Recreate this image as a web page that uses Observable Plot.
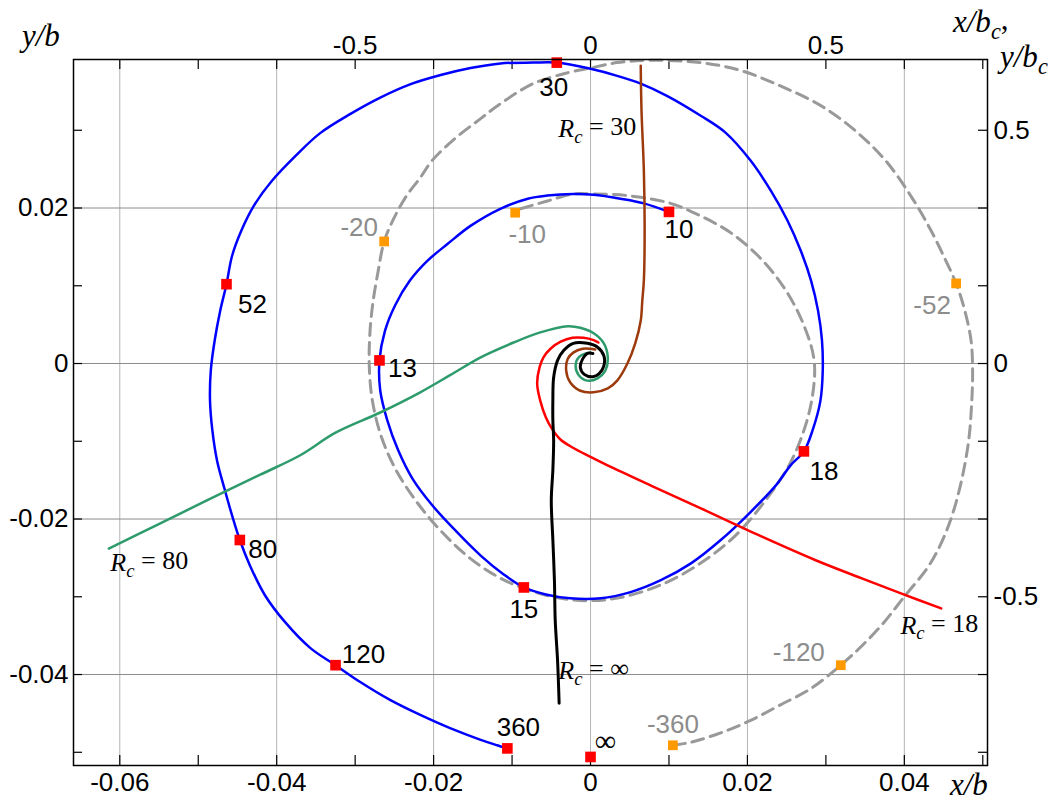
<!DOCTYPE html>
<html><head><meta charset="utf-8">
<script src="https://cdn.jsdelivr.net/npm/d3@7"></script>
<script src="https://cdn.jsdelivr.net/npm/@observablehq/plot@0.6"></script>
<style>body{margin:0;background:#fff}</style>
</head><body><div id="chart"></div>
<script>
// ---------- DATA (x/b, y/b) ----------
const blueSpiral = [[0.0100,0.0195],[0.0068,0.0206],[0.0038,0.0212],[0.0004,0.0217],[-0.0022,0.0218],[-0.0055,0.0216],[-0.0080,0.0212],[-0.0115,0.0199],[-0.0153,0.0177],[-0.0182,0.0154],[-0.0208,0.0132],[-0.0230,0.0107],[-0.0249,0.0075],[-0.0262,0.0042],[-0.0269,0.0004],[-0.0268,-0.0035],[-0.0259,-0.0073],[-0.0245,-0.0112],[-0.0227,-0.0148],[-0.0202,-0.0182],[-0.0172,-0.0215],[-0.0140,-0.0247],[-0.0111,-0.0271],[-0.0085,-0.0288],[-0.0057,-0.0297],[-0.0026,-0.0302],[0.0013,-0.0302],[0.0051,-0.0294],[0.0089,-0.0279],[0.0128,-0.0257],[0.0166,-0.0227],[0.0204,-0.0191],[0.0236,-0.0157],[0.0255,-0.0131],[0.0272,-0.0113],[0.0283,-0.0086],[0.0293,-0.0048],[0.0296,-0.0009],[0.0295,0.0030],[0.0290,0.0068],[0.0281,0.0107],[0.0268,0.0145],[0.0251,0.0184],[0.0230,0.0222],[0.0204,0.0261],[0.0172,0.0297],[0.0140,0.0319],[0.0098,0.0344],[0.0064,0.0360],[0.0034,0.0370],[0.0000,0.0379],[-0.0043,0.0387],[-0.0073,0.0387],[-0.0115,0.0386],[-0.0153,0.0380],[-0.0191,0.0371],[-0.0230,0.0359],[-0.0268,0.0342],[-0.0306,0.0321],[-0.0345,0.0296],[-0.0376,0.0267],[-0.0406,0.0235],[-0.0429,0.0203],[-0.0445,0.0171],[-0.0457,0.0138],[-0.0464,0.0102],[-0.0472,0.0068],[-0.0479,0.0030],[-0.0484,-0.0009],[-0.0485,-0.0048],[-0.0482,-0.0086],[-0.0476,-0.0125],[-0.0466,-0.0163],[-0.0457,-0.0195],[-0.0447,-0.0227],[-0.0434,-0.0260],[-0.0415,-0.0298],[-0.0389,-0.0333],[-0.0357,-0.0366],[-0.0325,-0.0388],[-0.0293,-0.0410],[-0.0255,-0.0433],[-0.0217,-0.0452],[-0.0179,-0.0469],[-0.0140,-0.0484],[-0.0119,-0.0491],[-0.0106,-0.0495]];

const graySpiral = [[-0.0089,0.0199],[-0.0055,0.0209],[-0.0022,0.0218],[0.0004,0.0218],[0.0047,0.0216],[0.0102,0.0206],[0.0140,0.0190],[0.0179,0.0168],[0.0217,0.0135],[0.0249,0.0094],[0.0272,0.0049],[0.0285,0.0004],[0.0283,-0.0041],[0.0272,-0.0086],[0.0253,-0.0131],[0.0223,-0.0176],[0.0185,-0.0221],[0.0140,-0.0257],[0.0089,-0.0285],[0.0038,-0.0301],[0.0000,-0.0305],[-0.0038,-0.0302],[-0.0077,-0.0292],[-0.0115,-0.0276],[-0.0153,-0.0251],[-0.0191,-0.0215],[-0.0223,-0.0176],[-0.0249,-0.0135],[-0.0267,-0.0093],[-0.0278,-0.0048],[-0.0282,-0.0003],[-0.0281,0.0042],[-0.0277,0.0081],[-0.0271,0.0117],[-0.0263,0.0157],[-0.0251,0.0186],[-0.0235,0.0215],[-0.0217,0.0239],[-0.0202,0.0261],[-0.0172,0.0290],[-0.0140,0.0315],[-0.0115,0.0334],[-0.0073,0.0360],[-0.0029,0.0374],[0.0000,0.0380],[0.0034,0.0387],[0.0077,0.0390],[0.0140,0.0387],[0.0191,0.0377],[0.0242,0.0357],[0.0293,0.0332],[0.0338,0.0299],[0.0376,0.0261],[0.0408,0.0216],[0.0434,0.0171],[0.0453,0.0132],[0.0466,0.0103],[0.0476,0.0072],[0.0485,0.0030],[0.0487,-0.0009],[0.0486,-0.0048],[0.0482,-0.0099],[0.0473,-0.0150],[0.0461,-0.0195],[0.0447,-0.0231],[0.0430,-0.0262],[0.0399,-0.0301],[0.0374,-0.0333],[0.0347,-0.0362],[0.0319,-0.0388],[0.0281,-0.0418],[0.0242,-0.0439],[0.0204,-0.0459],[0.0166,-0.0475],[0.0128,-0.0487],[0.0105,-0.0491]];

const curveRc30 = [[0.0064,0.0383],[0.0065,0.0325],[0.0068,0.0248],[0.0069,0.0171],[0.0068,0.0107],[0.0066,0.0081],[0.0064,0.0055],[0.0057,0.0026],[0.0047,0.0000],[0.0034,-0.0022],[0.0022,-0.0032],[0.0004,-0.0037],[-0.0013,-0.0035],[-0.0026,-0.0024],[-0.0031,-0.0009],[-0.0029,0.0006],[-0.0022,0.0014],[-0.0010,0.0019],[0.0000,0.0019],[0.0006,0.0018]];

const curveRc80 = [[-0.0614,-0.0238],[-0.0549,-0.0206],[-0.0489,-0.0176],[-0.0421,-0.0143],[-0.0370,-0.0118],[-0.0325,-0.0089],[-0.0268,-0.0063],[-0.0217,-0.0037],[-0.0179,-0.0015],[-0.0140,0.0008],[-0.0098,0.0027],[-0.0064,0.0040],[-0.0029,0.0048],[-0.0013,0.0046],[0.0004,0.0039],[0.0017,0.0026],[0.0022,0.0008],[0.0019,-0.0009],[0.0009,-0.0019],[-0.0004,-0.0022],[-0.0015,-0.0015],[-0.0019,-0.0003],[-0.0015,0.0008],[-0.0006,0.0013],[0.0000,0.0014]];

const curveRc18 = [[0.0447,-0.0315],[0.0399,-0.0297],[0.0345,-0.0276],[0.0287,-0.0253],[0.0217,-0.0222],[0.0140,-0.0186],[0.0077,-0.0157],[0.0028,-0.0134],[0.0000,-0.0120],[-0.0023,-0.0108],[-0.0038,-0.0098],[-0.0049,-0.0084],[-0.0057,-0.0069],[-0.0064,-0.0048],[-0.0068,-0.0026],[-0.0065,-0.0005],[-0.0060,0.0008],[-0.0051,0.0019],[-0.0038,0.0028],[-0.0023,0.0033],[-0.0009,0.0033],[0.0004,0.0030],[0.0010,0.0027]];

const curveRcInf = [[-0.0040,-0.0437],[-0.0042,-0.0382],[-0.0045,-0.0330],[-0.0046,-0.0279],[-0.0048,-0.0227],[-0.0050,-0.0176],[-0.0048,-0.0137],[-0.0047,-0.0099],[-0.0048,-0.0073],[-0.0048,-0.0048],[-0.0047,-0.0018],[-0.0042,0.0004],[-0.0034,0.0017],[-0.0022,0.0026],[-0.0004,0.0026],[0.0009,0.0021],[0.0017,0.0010],[0.0017,-0.0003],[0.0011,-0.0013],[0.0003,-0.0017],[-0.0008,-0.0014],[-0.0013,-0.0005],[-0.0010,0.0006],[-0.0004,0.0013],[0.0003,0.0013]];

const redMarkerLabels = ["10","13","15","18","30","52","80","120","360","\u221E"];
const redMarkers = [[0.0100,0.0195],[-0.0269,0.0004],[-0.0085,-0.0288],[0.0272,-0.0113],[-0.0043,0.0387],[-0.0464,0.0102],[-0.0447,-0.0227],[-0.0325,-0.0388],[-0.0106,-0.0495],[0.0000,-0.0506]];
const orangeMarkerLabels = ["-10","-20","-52","-120","-360"];
const orangeMarkers = [[-0.0096,0.0194],[-0.0263,0.0157],[0.0466,0.0103],[0.0319,-0.0388],[0.0105,-0.0491]];

const rcLabelTexts = ["R_c = 30","R_c = 80","R_c = 18","R_c = \u221E"];
const rcLabelAnchors = [[-0.0041,0.0302],[-0.0612,-0.0256],[0.0395,-0.0337],[-0.0041,-0.0395]];

const xTickValues = [-0.06,-0.05,-0.04,-0.03,-0.02,-0.01,0,0.01,0.02,0.03,0.04,0.05];
const xLabelValues = [-0.06,-0.04,-0.02,0,0.02,0.04];
const xLabelTexts = ["-0.06","-0.04","-0.02","0","0.02","0.04"];
const yTickValues = [0.03,0.02,0.01,0,-0.01,-0.02,-0.03,-0.04,-0.05];
const yLabelValues = [0.02,0,-0.02,-0.04];
const yLabelTexts = ["0.02","0","-0.02","-0.04"];
const topLabelValues = [-0.03,0,0.03];
const topLabelTexts = ["-0.5","0","0.5"];
const rightLabelValues = [0.03,0,-0.03];
const rightLabelTexts = ["0.5","0","-0.5"];

// ---------- LAYOUT / STYLE ----------
const W = 1060, H = 801, mL = 73, mR = 73, mT = 59, mB = 36;
const frameW = W - mL - mR, frameH = H - mT - mB;
const redOffsets = [[10,18],[23,8],[0,22],[20,20],[-3,25],[26,20],[23,10],[28,-11],[11,-21],[15,-16]];
const orangeOffsets = [[12,22],[-25,-14],[-24,22],[-42,-13],[0,-21]];
const xy = {x: d => d[0], y: d => d[1]};
const sans = "'Liberation Sans', Arial, sans-serif";
const serif = "'Liberation Serif', 'Times New Roman', serif";

const fmt = (vals, texts) => d => texts[vals.indexOf(d)];

const labelMarks = [];
redMarkers.forEach((p, i) => {
  const inf = redMarkerLabels[i] === "\u221E";
  labelMarks.push(Plot.text([p], {...xy, text: () => redMarkerLabels[i], dx: redOffsets[i][0], dy: redOffsets[i][1], fontSize: inf ? 30 : 26, fill: "#000", fontFamily: inf ? serif : sans}));
});
orangeMarkers.forEach((p, i) => labelMarks.push(Plot.text([p], {...xy, text: () => orangeMarkerLabels[i], dx: orangeOffsets[i][0], dy: orangeOffsets[i][1], fontSize: 26, fill: "#8c8c8c"})));

const svg = Plot.plot({
  width: W, height: H,
  marginLeft: mL, marginRight: mR, marginTop: mT, marginBottom: mB,
  x: {domain: [-0.0659, 0.0506]},
  y: {domain: [-0.0517, 0.0391]},
  style: {fontFamily: sans, fontSize: "26px", background: "#fff", color: "#000"},
  marks: [
    Plot.gridX(xLabelValues, {stroke: "#b4b4b4", strokeOpacity: 1, strokeWidth: 1}),
    Plot.gridY(yLabelValues, {stroke: "#8c8c8c", strokeOpacity: 1, strokeWidth: 1}),
    Plot.tickX(xTickValues, {x: d => d, insetTop: frameH - 10, stroke: "#000", strokeWidth: 1.2}),
    Plot.tickX(xTickValues, {x: d => d, insetBottom: frameH - 10, stroke: "#000", strokeWidth: 1.2}),
    Plot.tickY(yTickValues, {y: d => d, insetRight: frameW - 9, stroke: "#000", strokeWidth: 1.2}),
    Plot.tickY(yTickValues, {y: d => d, insetLeft: frameW - 9, stroke: "#000", strokeWidth: 1.2}),
    Plot.line(graySpiral, {...xy, stroke: "#999", strokeWidth: 3, strokeDasharray: "12,7", curve: "catmull-rom"}),
    Plot.line(blueSpiral, {...xy, stroke: "#0000ff", strokeWidth: 2.5, curve: "catmull-rom"}),
    Plot.line(curveRc80, {...xy, stroke: "#2e9b6c", strokeWidth: 2.5, curve: "catmull-rom"}),
    Plot.line(curveRc18, {...xy, stroke: "#ff0000", strokeWidth: 2.5, curve: "catmull-rom"}),
    Plot.line(curveRcInf, {...xy, stroke: "#000", strokeWidth: 3, curve: "catmull-rom"}),
    Plot.line(curveRc30, {...xy, stroke: "#9c3a0c", strokeWidth: 2.5, curve: "catmull-rom"}),
    Plot.dot(orangeMarkers, {...xy, symbol: "square", r: 5.5, fill: "#ff9900"}),
    Plot.dot(redMarkers, {...xy, symbol: "square", r: 6, fill: "#ff0000"}),
    ...labelMarks,
    Plot.text(rcLabelAnchors, {...xy, text: (d, i) => rcLabelTexts[i], textAnchor: "start", fontFamily: serif, fontSize: 26, fill: "#000"}),
    Plot.frame({stroke: "#000", strokeWidth: 1.5}),
    Plot.axisX({anchor: "bottom", ticks: xLabelValues, tickFormat: fmt(xLabelValues, xLabelTexts), tickSize: 0, tickPadding: 7, label: null}),
    Plot.axisX({anchor: "top", ticks: topLabelValues, tickFormat: fmt(topLabelValues, topLabelTexts), tickSize: 0, tickPadding: 6, label: null}),
    Plot.axisY({anchor: "left", ticks: yLabelValues, tickFormat: fmt(yLabelValues, yLabelTexts), tickSize: 0, tickPadding: 5, label: null}),
    Plot.axisY({anchor: "right", ticks: rightLabelValues, tickFormat: fmt(rightLabelValues, rightLabelTexts), tickSize: 0, tickPadding: 6, label: null})
  ]
});
document.getElementById("chart").append(svg);

// subscript c for R_c labels
d3.select(svg).selectAll("text").filter(function () { return this.textContent.startsWith("R_c"); }).each(function () {
  const rest = this.textContent.slice(3).replace(/ /g, "\u00A0");
  const t = d3.select(this); t.text(null);
  t.append("tspan").attr("font-style", "italic").text("R");
  t.append("tspan").attr("font-style", "italic").attr("font-size", "0.72em").attr("dy", "0.3em").text("c");
  t.append("tspan").attr("dy", "-0.3em").text(rest);
});

// axis titles
const titleSpecs = [
  {main: "y/b", sub: "", tail: "", x: 22, y: 46},
  {main: "x/b", sub: "", tail: "", x: 950, y: 795},
  {main: "x/b", sub: "c", tail: ",", x: 953, y: 32},
  {main: "y/b", sub: "c", tail: "", x: 1000, y: 67}
];
const s = d3.select(svg);
titleSpecs.forEach(tsp => {
  const t = s.append("text").attr("x", tsp.x).attr("y", tsp.y).attr("text-anchor", "start").attr("font-family", serif).attr("font-size", 31).attr("font-style", "italic").attr("fill", "#000");
  t.append("tspan").text(tsp.main);
  if (tsp.sub) t.append("tspan").attr("font-size", "0.72em").attr("dy", "0.3em").text(tsp.sub);
  if (tsp.tail) t.append("tspan").attr("dy", "-0.3em").attr("font-style", "normal").text(tsp.tail);
});
</script>
</body></html>
